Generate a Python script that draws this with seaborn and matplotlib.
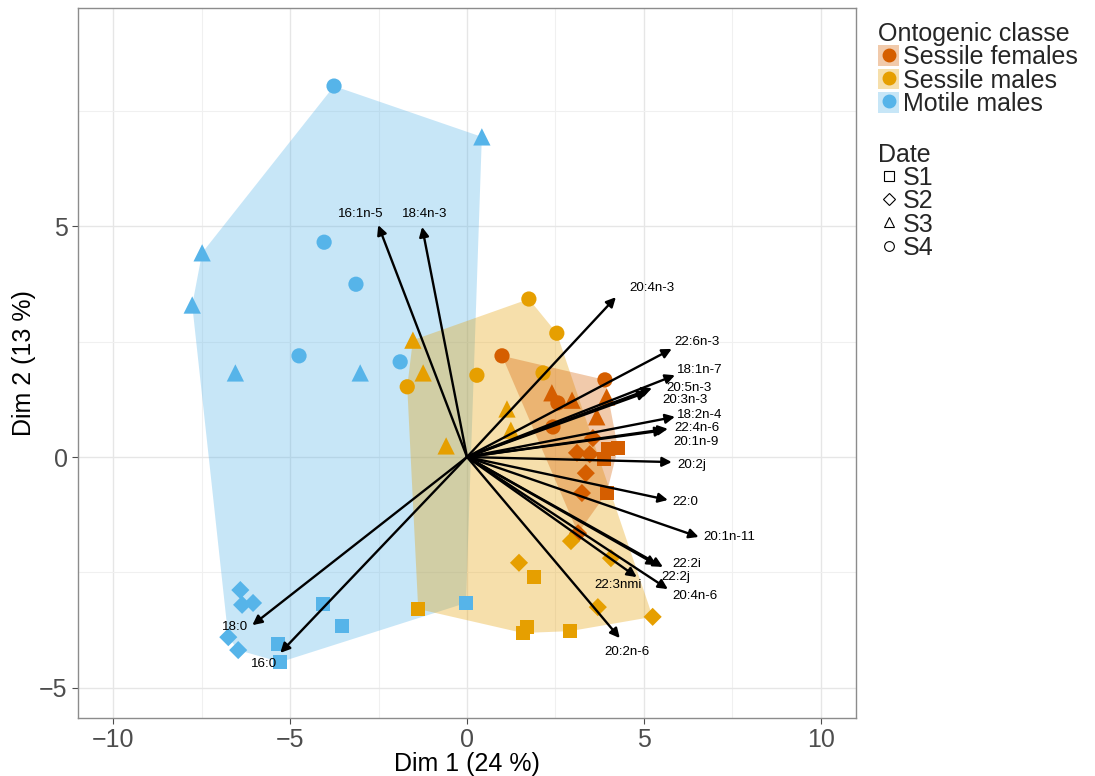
import numpy as np
import pandas as pd
import matplotlib
matplotlib.use('Agg')
import matplotlib.pyplot as plt
from matplotlib.patches import Patch, Polygon
from matplotlib.lines import Line2D
import seaborn as sns

# ---- individuals (PCA coordinates) ----
groups = ['Sessile females', 'Sessile males', 'Motile males']
colors = {'Sessile females': '#D55E00', 'Sessile males': '#E69F00', 'Motile males': '#56B4E9'}

fem_x = [0.99, 3.90, 2.57, 2.43,   2.40, 2.97, 3.95, 3.67,
         3.56, 3.11, 3.47, 3.36, 3.25, 3.14,   3.98, 4.27, 3.87, 3.95]
fem_y = [2.19, 1.67, 1.17, 0.65,   1.39, 1.23, 1.30, 0.87,
         0.41, 0.09, 0.06, -0.35, -0.78, -1.65,   0.17, 0.19, -0.04, -0.78]
fem_date = ['S4'] * 4 + ['S3'] * 4 + ['S2'] * 6 + ['S1'] * 4

male_x = [1.75, 2.54, 0.28, -1.69, 2.15,   -1.53, -1.24, 1.13, 1.24, -0.59,
          1.47, 2.94, 4.07, 3.70, 5.25,   1.89, -1.38, 1.69, 1.58, 2.91]
male_y = [3.42, 2.68, 1.77, 1.52, 1.82,   2.53, 1.82, 1.04, 0.58, 0.24,
          -2.29, -1.82, -2.19, -3.25, -3.46,   -2.60, -3.29, -3.68, -3.81, -3.77]
male_date = ['S4'] * 5 + ['S3'] * 5 + ['S2'] * 5 + ['S1'] * 5

mot_x = [-3.76, -4.04, -3.14, -4.75, -1.89,   0.42, -7.49, -7.77, -6.55, -3.02,
         -6.41, -6.36, -6.05, -6.75, -6.47,   -4.07, -3.53, -5.34, -5.28, -0.03]
mot_y = [8.03, 4.65, 3.74, 2.19, 2.06,   6.93, 4.42, 3.29, 1.82, 1.82,
         -2.88, -3.20, -3.16, -3.90, -4.18,   -3.18, -3.66, -4.05, -4.44, -3.16]
mot_date = ['S4'] * 5 + ['S3'] * 5 + ['S2'] * 5 + ['S1'] * 5

# ---- variables (arrows) ----
var_names = ['16:1n-5', '18:4n-3', '20:4n-3', '22:6n-3', '18:1n-7', '20:5n-3', '20:3n-3',
             '18:2n-4', '22:4n-6', '20:1n-9', '20:2j', '22:0', '20:1n-11', '22:2i',
             '22:2j', '20:4n-6', '22:3nmi', '20:2n-6', '18:0', '16:0']
var_x = [-2.51, -1.27, 4.21, 5.79, 5.88, 5.23, 5.11, 5.88, 5.68, 5.59, 5.79, 5.68,
         6.55, 5.54, 5.37, 5.68, 4.80, 4.32, -6.07, -5.28]
var_y = [5.02, 4.98, 3.46, 2.34, 1.77, 1.49, 1.41, 0.87, 0.61, 0.58, -0.11, -0.93,
         -1.73, -2.38, -2.34, -2.86, -2.60, -3.92, -3.64, -4.24]
# label positions (repelled)
lab_x = [-2.99, -1.21, 5.23, 6.50, 6.58, 6.27, 6.16, 6.58, 6.50, 6.47, 6.36, 6.16,
         7.43, 6.21, 5.90, 6.44, 4.27, 4.52, -6.55, -5.73]
lab_y = [5.26, 5.26, 3.66, 2.49, 1.88, 1.49, 1.23, 0.91, 0.63, 0.32, -0.17, -0.97,
         -1.73, -2.32, -2.60, -3.01, -2.77, -4.22, -3.68, -4.48]

df = pd.DataFrame({
    'x': fem_x + male_x + mot_x,
    'y': fem_y + male_y + mot_y,
    'group': ['Sessile females'] * len(fem_x) + ['Sessile males'] * len(male_x) + ['Motile males'] * len(mot_x),
    'date': fem_date + male_date + mot_date,
})


def convex_hull(pts):
    pts = sorted(set(map(tuple, pts)))
    def cross(o, a, b):
        return (a[0] - o[0]) * (b[1] - o[1]) - (a[1] - o[1]) * (b[0] - o[0])
    lower, upper = [], []
    for p in pts:
        while len(lower) >= 2 and cross(lower[-2], lower[-1], p) <= 0:
            lower.pop()
        lower.append(p)
    for p in reversed(pts):
        while len(upper) >= 2 and cross(upper[-2], upper[-1], p) <= 0:
            upper.pop()
        upper.append(p)
    return lower[:-1] + upper[:-1]


sns.set_theme(style='white')
plt.rcParams['font.family'] = ['Liberation Sans', 'DejaVu Sans']

fig = plt.figure(figsize=(10.95, 7.76), dpi=100)
ax = fig.add_axes([78 / 1095, 1 - 718 / 776, (856 - 78) / 1095, (718 - 8) / 776])

# hulls (motile first, then males, then females on top)
for g in ['Motile males', 'Sessile males', 'Sessile females']:
    sub = df[df.group == g]
    hull = convex_hull(sub[['x', 'y']].values)
    ax.add_patch(Polygon(hull, closed=True, facecolor=colors[g], alpha=0.33,
                         edgecolor='none', zorder=1))

# points, one call per sampling date so each shape gets its own size
shape = {'S1': 's', 'S2': 'D', 'S3': '^', 'S4': 'o'}
msize = {'S1': 100, 'S2': 85, 'S3': 155, 'S4': 120}
for d in ['S1', 'S2', 'S3', 'S4']:
    sns.scatterplot(data=df[df.date == d], x='x', y='y', hue='group', palette=colors,
                    marker=shape[d], s=msize[d], linewidth=0, legend=False, ax=ax, zorder=3)

# variable arrows
for name, vx, vy, tx, ty in zip(var_names, var_x, var_y, lab_x, lab_y):
    ax.annotate('', xy=(vx, vy), xytext=(0, 0),
                arrowprops=dict(arrowstyle='-|>', color='black', lw=1.7,
                                mutation_scale=14, shrinkA=0, shrinkB=0), zorder=4)
    ax.text(tx, ty, name, ha='center', va='center', fontsize=9.6, color='black', zorder=5)

ax.set_xlim(-11, 11)
ax.set_ylim(-5.65, 9.72)
ax.set_xticks([-10, -5, 0, 5, 10])
ax.set_yticks([-5, 0, 5])
ax.set_xticks([-7.5, -2.5, 2.5, 7.5], minor=True)
ax.set_yticks([-2.5, 2.5, 7.5], minor=True)
ax.grid(True, which='major', color='#e6e6e6', lw=1.0)
ax.grid(True, which='minor', color='#f0f0f0', lw=0.8)
ax.set_axisbelow(True)
for sp in ax.spines.values():
    sp.set_color('#8c8c8c')
    sp.set_linewidth(1.0)
ax.tick_params(axis='both', which='major', labelsize=18, colors='#4d4d4d',
               length=4, width=0.8, direction='out', bottom=True, left=True)
ax.tick_params(axis='both', which='minor', length=0)
ax.set_xlabel('Dim 1 (24 %)', fontsize=18, color='black', labelpad=0)
ax.set_ylabel('Dim 2 (13 %)', fontsize=18, color='black', labelpad=2)

# legends
h1 = [(Patch(facecolor=colors[g], alpha=0.33, edgecolor='none'),
       Line2D([], [], marker='o', color=colors[g], ls='', markersize=9)) for g in groups]
leg1 = fig.legend(h1, groups, title='Ontogenic classe', loc='upper left',
                  bbox_to_anchor=(868 / 1095, 1 - 12 / 776), frameon=False,
                  fontsize=18, title_fontsize=18, handlelength=0.85, handleheight=0.9,
                  handletextpad=0.15, labelspacing=-0.03, borderaxespad=0, alignment='left')

h2 = [Line2D([], [], marker=shape[d], color='black', mfc='none', ls='', markersize=7 if d != 'S2' else 6,
             markeredgewidth=0.8) for d in ['S1', 'S2', 'S3', 'S4']]
leg2 = fig.legend(h2, ['S1', 'S2', 'S3', 'S4'], title='Date', loc='upper left',
                  bbox_to_anchor=(868 / 1095, 1 - 133 / 776), frameon=False,
                  fontsize=18, title_fontsize=18, handlelength=0.85, handleheight=0.9,
                  handletextpad=0.15, labelspacing=-0.03, borderaxespad=0, alignment='left')

fig.savefig('out.png', dpi=100)
